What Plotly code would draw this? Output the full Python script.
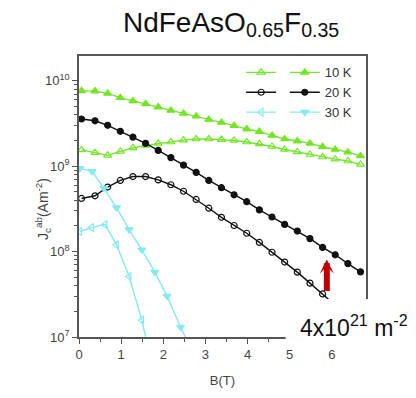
import math
import plotly.graph_objects as go

# ---------------- data ----------------
B_grid = [0.06, 0.38, 0.68, 0.98, 1.28, 1.58, 1.88, 2.18, 2.48, 2.78, 3.08, 3.38,
          3.68, 3.98, 4.28, 4.58, 4.88, 5.18, 5.48, 5.78, 6.08, 6.38, 6.68]

J10_open = [1.55e9, 1.44e9, 1.34e9, 1.49e9, 1.64e9, 1.75e9, 1.85e9, 1.92e9, 2.02e9, 2.08e9,
            2.08e9, 2.05e9, 2.00e9, 1.92e9, 1.82e9, 1.70e9, 1.57e9, 1.47e9, 1.37e9, 1.28e9,
            1.21e9, 1.15e9, 1.05e9]
J10_fill = [7.62e9, 7.57e9, 7.12e9, 6.34e9, 5.81e9, 5.37e9, 4.92e9, 4.50e9, 4.15e9, 3.84e9,
            3.52e9, 3.25e9, 2.98e9, 2.72e9, 2.54e9, 2.29e9, 2.08e9, 1.97e9, 1.85e9, 1.69e9,
            1.57e9, 1.46e9, 1.32e9]

B20_open = B_grid[:21]
J20_open = [4.19e8, 4.50e8, 5.70e8, 6.81e8, 7.56e8, 7.56e8, 6.91e8, 6.06e8, 5.09e8, 4.08e8,
            3.22e8, 2.52e8, 2.02e8, 1.64e8, 1.28e8, 9.82e7, 7.54e7, 5.75e7, 4.27e7, 3.19e7,
            2.35e7]
J20_fill = [3.57e9, 3.40e9, 3.01e9, 2.56e9, 2.19e9, 1.85e9, 1.53e9, 1.26e9, 1.03e9, 8.47e8,
            6.81e8, 5.60e8, 4.62e8, 3.84e8, 3.08e8, 2.54e8, 2.08e8, 1.74e8, 1.42e8, 1.12e8,
            9.17e7, 7.23e7, 5.79e7]

B30_open = [0.02, 0.30, 0.62, 0.89, 1.19, 1.49, 1.78]
J30_open = [1.72e8, 1.91e8, 2.08e8, 1.20e8, 5.10e7, 1.58e7, 3.70e6]
B30_fill = [0.02, 0.31, 0.59, 0.89, 1.19, 1.49, 1.80, 2.09, 2.41, 2.70]
J30_fill = [9.42e8, 8.69e8, 5.55e8, 3.28e8, 1.81e8, 1.05e8, 5.75e7, 3.01e7, 1.31e7, 6.44e6]

labels = ["10 K", "20 K", "30 K"]
y_tickvals = [1e7, 1e8, 1e9, 1e10]
y_ticktext = ["10<sup>7</sup>", "10<sup>8</sup>", "10<sup>9</sup>", "10<sup>10</sup>"]
x_tickvals = [0, 1, 2, 3, 4, 5, 6]
x_ticktext = ["0", "1", "2", "3", "4", "5", "6"]

title_text = "NdFeAsO<sub>0.65</sub>F<sub>0.35</sub>"
y_title = "J<sub>c</sub><sup>ab</sup>(Am<sup>-2</sup>)"
x_title = "B(T)"
density_text = "4x10<sup>21</sup> m<sup>-2</sup>"
arrow_B, arrow_J = 5.88, 8.1e7

# ---------------- styles ----------------
GREEN = "#72E626"
BLACK = "#111111"
CYAN = "#86E9F2"
FONT = "Liberation Sans, Arial, sans-serif"
AXC = "#555555"

fig = go.Figure()

series = [
    (B_grid, J10_open, GREEN, "triangle-up-open", 7, labels[0], "legend"),
    (B_grid, J10_fill, GREEN, "triangle-up", 7, labels[0], "legend2"),
    (B20_open, J20_open, BLACK, "circle-open", 6, labels[1], "legend"),
    (B_grid, J20_fill, BLACK, "circle", 6, labels[1], "legend2"),
    (B30_open, J30_open, CYAN, "triangle-left-open", 7, labels[2], "legend"),
    (B30_fill, J30_fill, CYAN, "triangle-down", 7, labels[2], "legend2"),
]
for xs, ys, col, sym, sz, lab, leg in series:
    fig.add_trace(go.Scatter(
        x=xs, y=ys, mode="lines+markers",
        line=dict(color=col, width=1.4),
        marker=dict(symbol=sym, size=sz, color=col, line=dict(color=col, width=1.2)),
        name=lab if leg == "legend2" else " ",
        legend=leg, cliponaxis=True,
    ))

y_minor = [m * 10 ** e for e in range(6, 11) for m in range(2, 10)]

fig.update_layout(
    width=408, height=390,
    margin=dict(l=71, r=50, t=48, b=55),
    paper_bgcolor="white", plot_bgcolor="white",
    font=dict(family=FONT, color="#444444", size=13),
    showlegend=True,
    title=dict(text=title_text, x=0.530, xref="paper", xanchor="center",
               y=0.990, yref="container", yanchor="top",
               font=dict(size=28, color="#111111", family=FONT)),
    xaxis=dict(range=[0, 6.81], tickmode="array", tickvals=x_tickvals, ticktext=x_ticktext,
               ticks="outside", ticklen=5, tickwidth=1.2, tickcolor=AXC,
               showline=True, linecolor=AXC, linewidth=1.6, mirror=True,
               showgrid=False, zeroline=False,
               tickfont=dict(size=13, color="#444444"),
               minor=dict(dtick=0.5, ticks="outside", ticklen=3, tickcolor=AXC, showgrid=False),
               title=dict(text=x_title, font=dict(size=13, color="#444444"), standoff=14)),
    yaxis=dict(type="log", range=[7, 10.29], tickmode="array", tickvals=y_tickvals,
               ticktext=y_ticktext, ticks="outside", ticklen=5, tickwidth=1.2, tickcolor=AXC,
               showline=True, linecolor=AXC, linewidth=1.6, mirror=True,
               showgrid=False, zeroline=False,
               tickfont=dict(size=13, color="#444444"),
               minor=dict(tickmode="array", tickvals=y_minor, ticks="outside", ticklen=3,
                          tickcolor=AXC, showgrid=False)),
    legend=dict(x=0.565, y=0.995, xanchor="left", yanchor="top", bgcolor="rgba(0,0,0,0)",
                font=dict(size=13, color="#333333"), tracegroupgap=0, itemwidth=30,
                borderwidth=0),
    legend2=dict(x=0.717, y=0.995, xanchor="left", yanchor="top", bgcolor="rgba(0,0,0,0)",
                 font=dict(size=13, color="#333333"), tracegroupgap=0, itemwidth=30,
                 borderwidth=0),
)

# y-axis title as rotated annotation
fig.add_annotation(text=y_title, textangle=-90,
                   xref="paper", yref="paper", x=-0.167, y=0.456, showarrow=False,
                   font=dict(size=14, color="#444444", family=FONT))

# white box covering lower-right corner with the density label
fig.add_shape(type="rect", xref="paper", yref="paper", x0=0.72, x1=1.3, y0=-0.035, y1=0.135,
              fillcolor="white", line=dict(width=0), layer="above")
fig.add_annotation(text=density_text, xref="paper", yref="paper", x=0.762, y=0.04,
                   xanchor="left", yanchor="middle", showarrow=False,
                   font=dict(size=23, color="#111111", family=FONT))

# small cut-off orange fragments at the right edge
fig.add_shape(type="rect", xref="paper", yref="paper", x0=1.155, x1=1.2, y0=0.37, y1=0.40,
              fillcolor="#E9A45A", line=dict(width=0), layer="above")
fig.add_shape(type="rect", xref="paper", yref="paper", x0=1.155, x1=1.2, y0=0.45, y1=0.48,
              fillcolor="#F2CFA0", line=dict(width=0), layer="above")

# red arrow
fig.add_annotation(x=arrow_B, y=math.log10(arrow_J), xref="x", yref="y",
                   ax=0, ay=33, axref="pixel", ayref="pixel", text="", showarrow=True,
                   arrowhead=3, arrowsize=0.4, arrowwidth=6, arrowcolor="#C00000")

fig.write_html("out.html")
